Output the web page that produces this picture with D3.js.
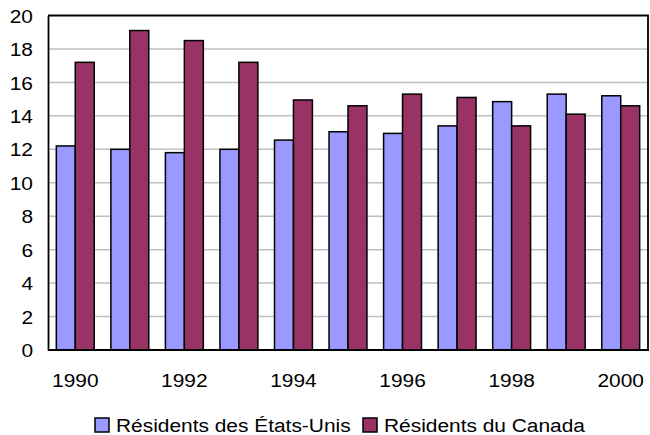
<!DOCTYPE html>
<html><head><meta charset="utf-8">
<script src="https://cdn.jsdelivr.net/npm/d3@7"></script>
<style>
html,body{margin:0;padding:0;background:#fff;}
svg text{font-family:Arial,"Liberation Sans",sans-serif;fill:#000;}
</style></head>
<body>
<svg id="chart" width="650" height="435"></svg>
<script>
const years = [1990,1991,1992,1993,1994,1995,1996,1997,1998,1999,2000];
const usResidents = [12.2,12.0,11.8,12.0,12.55,13.05,12.95,13.4,14.85,15.3,15.2];
const caResidents = [17.2,19.1,18.5,17.2,14.95,14.6,15.3,15.1,13.4,14.1,14.6];
const seriesNames = ["Résidents des États-Unis","Résidents du Canada"];
const seriesColors = ["#9999FF","#993366"];
const yTicks = [0,2,4,6,8,10,12,14,16,18,20];
const xTickLabels = [1990,1992,1994,1996,1998,2000];

const svg = d3.select("#chart");
const L = 48, R = 648, T = 15.5, B = 350;
const FS = 19, SX = 1.1;
const stretch = (ax, ay) => `translate(${ax},${ay}) scale(${SX},1) translate(${-ax},${-ay})`;

const x = d3.scaleBand().domain(years).range([L, R]).paddingInner(0.305).paddingOuter(0.1525);
const xs = d3.scaleBand().domain([0,1]).range([0, x.bandwidth()]);
const y = d3.scaleLinear().domain([0,20]).range([B, T]);

// gridlines
svg.append("g").selectAll("line").data(yTicks.filter(d => d > 0 && d < 20)).join("line")
  .attr("x1", L).attr("x2", R).attr("y1", d => y(d)).attr("y2", d => y(d))
  .attr("stroke", "#c0c0c0").attr("stroke-width", 1.5);

// plot border (top & right)
svg.append("path")
  .attr("d", `M${L},${T}H${R}V${B}`)
  .attr("fill", "none").attr("stroke", "#000").attr("stroke-width", 1.8);

// bars
const data = years.map((yr, i) => ({yr, vals: [usResidents[i], caResidents[i]]}));
const groups = svg.append("g").selectAll("g").data(data).join("g")
  .attr("transform", d => `translate(${x(d.yr)},0)`);
groups.selectAll("rect").data(d => d.vals.map((v, k) => ({v, k}))).join("rect")
  .attr("x", d => xs(d.k)).attr("width", xs.bandwidth())
  .attr("y", d => y(d.v)).attr("height", d => B - y(d.v))
  .attr("fill", d => seriesColors[d.k])
  .attr("stroke", "#000").attr("stroke-width", 1.5);

// y axis
const yAxis = svg.append("g").attr("transform", `translate(${L},0)`)
  .call(d3.axisLeft(y).tickValues(yTicks).tickSize(0).tickPadding(15).tickFormat(d3.format("d")));
yAxis.select(".domain").attr("stroke", "#000").attr("stroke-width", 1.8);
yAxis.selectAll("text").attr("font-size", FS).attr("dy", "0.35em")
  .attr("font-family", "Arial, 'Liberation Sans', sans-serif")
  .attr("transform", stretch(-15, 0));

// x axis
const xAxis = svg.append("g").attr("transform", `translate(0,${B})`)
  .call(d3.axisBottom(x).tickValues(xTickLabels).tickSize(0).tickPadding(24).tickFormat(d3.format("d")));
xAxis.select(".domain").attr("stroke", "#000").attr("stroke-width", 1.8).attr("d", `M${L},0H${R+1}`);
xAxis.selectAll("text").attr("font-size", FS).attr("dy", "0.71em")
  .attr("font-family", "Arial, 'Liberation Sans', sans-serif")
  .attr("transform", stretch(0, 0));

// legend
const leg = svg.append("g");
const legendItems = [{x: 95, name: seriesNames[0], c: seriesColors[0]}, {x: 363, name: seriesNames[1], c: seriesColors[1]}];
legendItems.forEach(it => {
  leg.append("rect").attr("x", it.x).attr("y", 418).attr("width", 14).attr("height", 14)
    .attr("fill", it.c).attr("stroke", "#000").attr("stroke-width", 1.5);
  leg.append("text").attr("x", it.x + 21).attr("y", 432).attr("font-size", FS)
    .attr("transform", stretch(it.x + 21, 432)).text(it.name);
});
</script>
</body></html>
